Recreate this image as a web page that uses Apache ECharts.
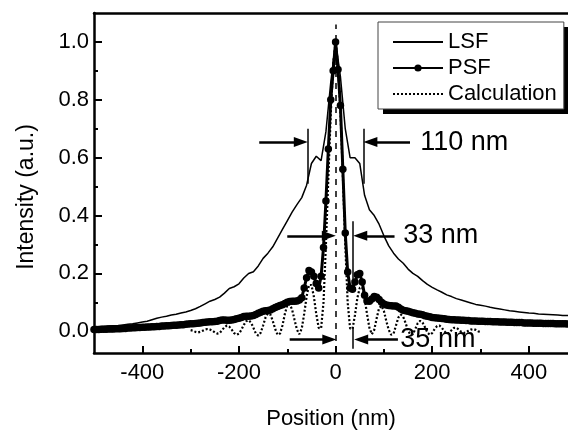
<!DOCTYPE html>
<html>
<head>
<meta charset="utf-8">
<script src="https://cdn.jsdelivr.net/npm/echarts@6/dist/echarts.min.js"></script>
<style>
html, body { margin: 0; padding: 0; background: #fff; }
#chart { width: 568px; height: 435px; }
</style>
</head>
<body>
<div id="chart"></div>
<script>
// sampling of each curve (nm)
var lsfStart = -500, lsfStep = 10;
var psfStart = -500, psfStep = 5;
var calcStart = -300, calcStep = 5;

// LSF, -500 .. 500 nm
var lsfValues = [
  0.015, 0.016, 0.017, 0.018, 0.019, 0.020, 0.022, 0.024, 0.026, 0.029,
  0.032, 0.035, 0.040, 0.045, 0.049, 0.052, 0.056, 0.059, 0.063, 0.067,
  0.072, 0.078, 0.086, 0.095, 0.104, 0.110, 0.118, 0.132, 0.148, 0.154,
  0.164, 0.184, 0.200, 0.206, 0.226, 0.252, 0.270, 0.292, 0.322, 0.352,
  0.382, 0.412, 0.438, 0.462, 0.505, 0.580, 0.605, 0.590, 0.690, 0.860,
  1.000,
  0.880, 0.700, 0.600, 0.600, 0.580, 0.470, 0.420, 0.400, 0.370, 0.330,
  0.295, 0.270, 0.250, 0.235, 0.215, 0.200, 0.190, 0.175, 0.162, 0.152,
  0.143, 0.135, 0.126, 0.120, 0.113, 0.108, 0.103, 0.098, 0.093, 0.090,
  0.087, 0.083, 0.080, 0.077, 0.074, 0.071, 0.069, 0.067, 0.065, 0.063,
  0.062, 0.060, 0.059, 0.058, 0.057, 0.056, 0.055, 0.055, 0.054, 0.054
];

// PSF, -500 .. 500 nm
var psfValues = [
  0.006, 0.006, 0.006, 0.007, 0.007, 0.007, 0.008, 0.008, 0.008, 0.009,
  0.009, 0.009, 0.010, 0.010, 0.011, 0.011, 0.012, 0.012, 0.013, 0.013,
  0.014, 0.014, 0.015, 0.015, 0.016, 0.016, 0.017, 0.017, 0.018, 0.018,
  0.019, 0.019, 0.020, 0.021, 0.021, 0.022, 0.023, 0.023, 0.024, 0.025,
  0.026, 0.026, 0.027, 0.028, 0.029, 0.030, 0.031, 0.032, 0.033, 0.033,
  0.034, 0.035, 0.037, 0.039, 0.039, 0.038, 0.038, 0.039, 0.041, 0.043,
  0.045, 0.048, 0.051, 0.052, 0.052, 0.053, 0.055, 0.058, 0.062, 0.066,
  0.069, 0.071, 0.072, 0.074, 0.078, 0.082, 0.086, 0.089, 0.092, 0.096,
  0.100, 0.103, 0.104, 0.104, 0.105, 0.108, 0.116, 0.150, 0.185, 0.210,
  0.205, 0.190, 0.165, 0.150, 0.190, 0.290, 0.450, 0.630, 0.800, 0.900,
  1.000,
  0.905, 0.780, 0.560, 0.340, 0.205, 0.150, 0.145, 0.170, 0.195, 0.200,
  0.170, 0.125, 0.105, 0.104, 0.112, 0.120, 0.118, 0.110, 0.100, 0.094,
  0.091, 0.089, 0.088, 0.087, 0.087, 0.083, 0.077, 0.073, 0.071, 0.069,
  0.067, 0.064, 0.062, 0.060, 0.059, 0.057, 0.054, 0.052, 0.050, 0.048,
  0.047, 0.046, 0.045, 0.044, 0.043, 0.042, 0.041, 0.040, 0.040, 0.039,
  0.039, 0.038, 0.038, 0.037, 0.037, 0.036, 0.036, 0.036, 0.035, 0.035,
  0.035, 0.034, 0.034, 0.034, 0.033, 0.033, 0.033, 0.032, 0.032, 0.032,
  0.031, 0.031, 0.031, 0.030, 0.030, 0.030, 0.030, 0.029, 0.029, 0.029,
  0.029, 0.028, 0.028, 0.028, 0.028, 0.027, 0.027, 0.027, 0.027, 0.027,
  0.026, 0.026, 0.026, 0.026, 0.026, 0.025, 0.025, 0.025, 0.025, 0.025
];

// Calculation, -300 .. 300 nm
var calcValues = [
  0.004, 0.002, -0.002, -0.004, -0.002, 0.002, 0.006, 0.008, 0.006, 0.002,
  -0.004, -0.008, -0.006, 0.004, 0.014, 0.020, 0.016, 0.006, -0.006, -0.012,
  -0.008, 0.005, 0.022, 0.035, 0.038, 0.030, 0.012, -0.008, -0.015, -0.005,
  0.020, 0.048, 0.062, 0.058, 0.036, 0.008, -0.012, -0.008, 0.020, 0.060,
  0.090, 0.094, 0.075, 0.040, 0.006, -0.010, 0.010, 0.060, 0.120, 0.160,
  0.160, 0.120, 0.060, 0.012, 0.010, 0.100, 0.300, 0.530, 0.750, 0.920,
  1.000,
  0.920, 0.760, 0.540, 0.300, 0.100, 0.010, 0.008, 0.055, 0.115, 0.150,
  0.152, 0.115, 0.060, 0.012, -0.010, 0.005, 0.045, 0.080, 0.088, 0.070,
  0.035, 0.005, -0.012, -0.008, 0.020, 0.048, 0.058, 0.050, 0.028, 0.002,
  -0.012, -0.010, 0.008, 0.028, 0.036, 0.030, 0.014, -0.004, -0.012, -0.006,
  0.008, 0.018, 0.020, 0.012, 0.000, -0.008, -0.006, 0.004, 0.012, 0.012,
  0.006, -0.002, -0.006, -0.004, 0.002, 0.006, 0.008, 0.005, 0.000, -0.003
];

var seriesNames = ['LSF', 'PSF', 'Calculation'];
var xRange = [-500, 481];
var yRange = [-0.075, 1.1];
var xMajor = [-400, -200, 0, 200, 400];
var xMinor = [-300, -100, 100, 300];
var yMajor = [0, 0.2, 0.4, 0.6, 0.8, 1.0];
var yMinor = [0.1, 0.3, 0.5, 0.7, 0.9];

// FWHM annotations: [left arrow start, left tip, right arrow start, right tip, y]
var fwhmLabels = ['110 nm', '33 nm', '35 nm'];
var fwhmArrows = [
  [-158, -72, 154, 72, 0.654],
  [-100, -14, 122, 51, 0.33],
  [-95, -13, 129, 53, -0.028]
];
var fwhmBars = [[-58, 0.70, 0.51], [58, 0.70, 0.51], [35, 0.38, 0.18], [35, 0.015, -0.06]];
var labelAt = [[174, 0.654], [139, 0.33], [133, -0.028]];

function pairs(start, step, values) {
  return values.map(function (v, i) { return [start + i * step, v]; });
}

var font = 'Liberation Sans, Arial, sans-serif';
var thin = {color: '#000', width: 1.5, type: 'solid'};
var dashed = {color: '#000', width: 1.5, type: [6, 6]};

var markLines = [];
fwhmArrows.forEach(function (a) {
  markLines.push([{coord: [a[0], a[4]]}, {coord: [a[1], a[4]]}]);
  markLines.push([{coord: [a[2], a[4]]}, {coord: [a[3], a[4]]}]);
});
fwhmBars.forEach(function (b) {
  markLines.push([
    {coord: [b[0], b[1]], symbol: 'none', lineStyle: thin},
    {coord: [b[0], b[2]], symbol: 'none', lineStyle: thin}
  ]);
});
markLines.push([
  {coord: [0, yRange[0]], symbol: 'none', lineStyle: dashed},
  {coord: [0, 1.06], symbol: 'none', lineStyle: dashed}
]);

// legend layout shared by the box and its black drop shadow
var legendBase = {
  data: [
    {name: 'LSF', itemStyle: {opacity: 0}},
    {name: 'PSF'},
    {name: 'Calculation', itemStyle: {opacity: 0}}
  ],
  orient: 'vertical',
  itemWidth: 50, itemHeight: 9, itemGap: 4,
  padding: [9, 7, 4, 14],
  selectedMode: false
};

var chart = echarts.init(document.getElementById('chart'));

chart.setOption({
  animation: false,
  backgroundColor: '#fff',
  grid: {left: 94, right: 0, top: 13, bottom: 68},
  legend: [
    Object.assign({}, legendBase, {
      left: 383, top: 27, z: 8,
      backgroundColor: '#000', borderWidth: 0,
      textStyle: {fontSize: 22, color: 'rgba(0,0,0,0)', fontFamily: font}
    }),
    Object.assign({}, legendBase, {
      left: 378, top: 22, z: 10,
      backgroundColor: '#fff', borderColor: '#444', borderWidth: 1,
      textStyle: {fontSize: 22, color: '#000', fontFamily: font}
    })
  ],
  xAxis: [{
    type: 'value', min: xRange[0], max: xRange[1],
    name: 'Position (nm)', nameLocation: 'middle', nameGap: 55,
    nameTextStyle: {fontSize: 22, color: '#000', fontFamily: font},
    axisLine: {onZero: false, lineStyle: {color: '#000', width: 2.5}},
    axisTick: {inside: true, length: 7, customValues: xMajor, lineStyle: {color: '#000', width: 2}},
    axisLabel: {customValues: xMajor, fontSize: 22, color: '#000', fontFamily: font, margin: 9},
    splitLine: {show: false}
  }, {
    type: 'value', min: xRange[0], max: xRange[1], position: 'bottom',
    axisLine: {show: false, onZero: false}, axisLabel: {show: false}, splitLine: {show: false},
    axisTick: {inside: true, length: 4, customValues: xMinor, lineStyle: {color: '#000', width: 2}}
  }, {
    type: 'value', min: xRange[0], max: xRange[1], position: 'top',
    axisLine: {onZero: false, lineStyle: {color: '#000', width: 2.5}},
    axisTick: {show: false}, axisLabel: {show: false}, splitLine: {show: false}
  }],
  yAxis: [{
    type: 'value', min: yRange[0], max: yRange[1],
    name: 'Intensity (a.u.)', nameLocation: 'middle', nameGap: 56, nameRotate: 90,
    nameTextStyle: {fontSize: 23, color: '#000', fontFamily: font, padding: [0, 28, 0, 0]},
    axisLine: {show: true, onZero: false, lineStyle: {color: '#000', width: 2.5}},
    axisTick: {show: true, inside: true, length: 8, customValues: yMajor, lineStyle: {color: '#000', width: 2}},
    axisLabel: {customValues: yMajor, fontSize: 22, color: '#000', fontFamily: font, margin: 5,
      formatter: function (v) { return v.toFixed(1); }},
    splitLine: {show: false}
  }, {
    type: 'value', min: yRange[0], max: yRange[1], position: 'left',
    axisLine: {show: false, onZero: false}, axisLabel: {show: false}, splitLine: {show: false},
    axisTick: {show: true, inside: true, length: 4, customValues: yMinor, lineStyle: {color: '#000', width: 2}}
  }],
  series: [{
    name: 'LSF', type: 'line', z: 2,
    data: pairs(lsfStart, lsfStep, lsfValues),
    showSymbol: false, symbol: 'none',
    lineStyle: {color: '#000', width: 1.5},
    itemStyle: {color: '#000'},
    markLine: {
      silent: true, animation: false,
      symbol: ['none', 'triangle'], symbolSize: [10, 14],
      label: {show: false},
      lineStyle: {color: '#000', width: 2.5, type: 'solid'},
      data: markLines
    },
    markPoint: {
      silent: true, animation: false,
      symbol: 'circle', symbolSize: 1,
      itemStyle: {color: 'rgba(0,0,0,0)'},
      label: {show: true, position: 'right', distance: 0, formatter: '{b}',
        fontSize: 27, color: '#000', fontFamily: font},
      data: fwhmLabels.map(function (t, i) { return {name: t, coord: labelAt[i]}; })
    }
  }, {
    name: 'PSF', type: 'line', z: 3,
    data: pairs(psfStart, psfStep, psfValues),
    symbol: 'circle', symbolSize: 7.5, showAllSymbol: true,
    lineStyle: {color: '#000', width: 3},
    itemStyle: {color: '#000', borderWidth: 0}
  }, {
    name: 'Calculation', type: 'line', z: 4,
    data: pairs(calcStart, calcStep, calcValues),
    showSymbol: false, symbol: 'none',
    lineStyle: {color: '#000', width: 2.2, type: [2, 2]},
    itemStyle: {color: '#000'}
  }]
});
</script>
</body>
</html>
